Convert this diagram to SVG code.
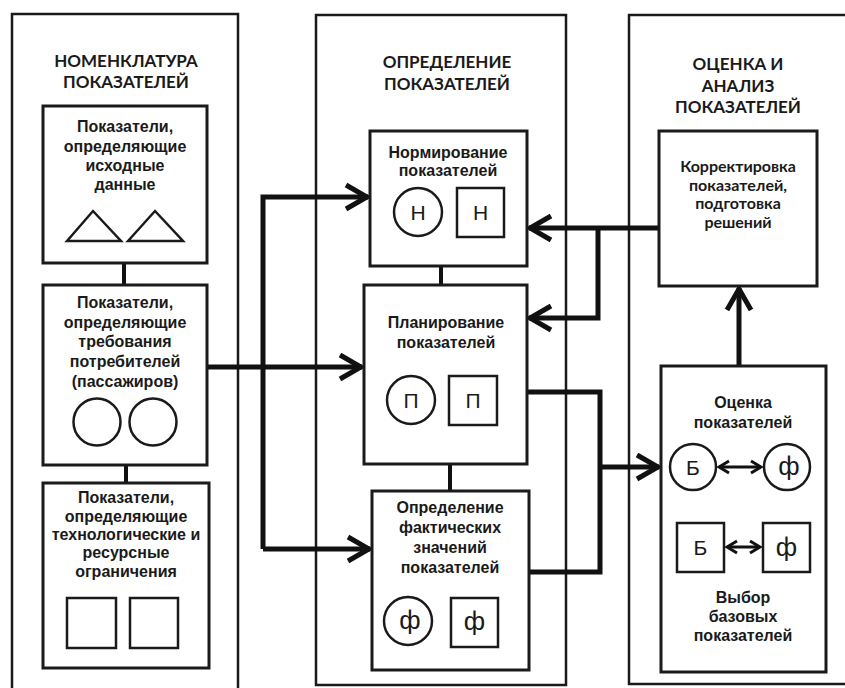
<svg xmlns="http://www.w3.org/2000/svg" width="845" height="688" viewBox="0 0 845 688">
<style>
.col{fill:none;stroke:#1a1a1a;stroke-width:2.5}
.box{fill:#fff;stroke:#1a1a1a;stroke-width:3}
.shp{fill:#fff;stroke:#1a1a1a;stroke-width:2.5}
.ln{fill:none;stroke:#111;stroke-width:5}
.lk{fill:none;stroke:#111;stroke-width:4}
.da{fill:none;stroke:#111;stroke-width:3}
.ttl{font-family:Lato,"Liberation Sans",sans-serif;font-weight:700;font-size:17px;fill:#1a1a1a;text-anchor:middle}
.t{font-family:"Liberation Sans",Arial,sans-serif;font-weight:700;font-size:16px;fill:#1a1a1a;text-anchor:middle}
.tc{font-family:Lato,"Liberation Sans",sans-serif;font-weight:700;font-size:16px;fill:#1a1a1a;text-anchor:middle}
.g{font-family:"Liberation Sans",Arial,sans-serif;font-size:21px;fill:#1a1a1a;text-anchor:middle;dominant-baseline:central}
.gf{font-family:"Liberation Sans",Arial,sans-serif;font-size:26px;fill:#1a1a1a;text-anchor:middle;dominant-baseline:central}
</style>
<defs>
<marker id="arr" markerUnits="userSpaceOnUse" viewBox="0 0 30 30" markerWidth="30" markerHeight="30" refX="27" refY="15" orient="auto">
<path d="M5,3 L26,15 L5,27" fill="none" stroke="#111" stroke-width="5" stroke-linejoin="miter"/>
</marker>
<marker id="sa" markerUnits="userSpaceOnUse" viewBox="0 0 16 16" markerWidth="16" markerHeight="16" refX="14" refY="8" orient="auto-start-reverse">
<path d="M4,2 L14,8 L4,14" fill="none" stroke="#111" stroke-width="3"/>
</marker>
</defs>
<rect width="845" height="688" fill="#fff"/>

<g id="col1">
<path class="col" d="M12,700 V14 H238 V700"/>
<text class="ttl" x="126" y="67">НОМЕНКЛАТУРА</text>
<text class="ttl" x="126" y="88">ПОКАЗАТЕЛЕЙ</text>
</g>
<g id="col2">
<rect class="col" x="316" y="15" width="250" height="670"/>
<text class="ttl" x="447" y="68">ОПРЕДЕЛЕНИЕ</text>
<text class="ttl" x="447" y="90">ПОКАЗАТЕЛЕЙ</text>
</g>
<g id="col3">
<rect class="col" x="629" y="15" width="240" height="669"/>
<text class="ttl" x="738" y="70">ОЦЕНКА И</text>
<text class="ttl" x="738" y="92">АНАЛИЗ</text>
<text class="ttl" x="738" y="113">ПОКАЗАТЕЛЕЙ</text>
</g>

<g id="connectors">
<path class="lk" d="M124,263 V285"/>
<path class="lk" d="M126,465 V483"/>
<path class="lk" d="M441,266 V285"/>
<path class="lk" d="M450,464 V491"/>
<path class="ln" d="M207,367 H362" marker-end="url(#arr)"/>
<path class="ln" d="M263,549 V197 H368" marker-end="url(#arr)"/>
<path class="ln" d="M263,549 H370" marker-end="url(#arr)"/>
<path class="ln" d="M659,228 H529" marker-end="url(#arr)"/>
<path class="ln" d="M598,228 V318 H529" marker-end="url(#arr)"/>
<path class="ln" d="M527,392 H600 V572 H529"/>
<path class="ln" d="M600,467 H659" marker-end="url(#arr)"/>
<path class="ln" d="M739,366 V288" marker-end="url(#arr)"/>
</g>

<g id="n-source">
<rect class="box" x="43" y="106" width="164" height="157"/>
<text class="t" x="125" y="132">Показатели,</text>
<text class="t" x="125" y="152">определяющие</text>
<text class="t" x="125" y="171">исходные</text>
<text class="t" x="125" y="190">данные</text>
<polygon class="shp" points="67,241 93,211 121,241"/>
<polygon class="shp" points="128,241 155,211 183,241"/>
</g>
<g id="n-consumers">
<rect class="box" x="43" y="285" width="164" height="180"/>
<text class="t" x="125" y="308">Показатели,</text>
<text class="t" x="125" y="328">определяющие</text>
<text class="t" x="125" y="347">требования</text>
<text class="t" x="125" y="367">потребителей</text>
<text class="t" x="125" y="387">(пассажиров)</text>
<circle class="shp" cx="97" cy="422" r="23.5"/>
<circle class="shp" cx="153" cy="422" r="23.5"/>
</g>
<g id="n-limits">
<rect class="box" x="43" y="483" width="166" height="185"/>
<text class="t" x="126" y="503">Показатели,</text>
<text class="t" x="126" y="522">определяющие</text>
<text class="t" x="126" y="540">технологические и</text>
<text class="t" x="126" y="558">ресурсные</text>
<text class="t" x="126" y="577">ограничения</text>
<rect class="shp" x="67" y="598" width="49" height="50"/>
<rect class="shp" x="130" y="598" width="48" height="50"/>
</g>

<g id="n-norm">
<rect class="box" x="370" y="131" width="157" height="135"/>
<text class="t" x="448" y="158">Нормирование</text>
<text class="t" x="448" y="176">показателей</text>
<circle class="shp" cx="418" cy="212" r="24"/>
<text class="g" x="418" y="212">Н</text>
<rect class="shp" x="457" y="188" width="47" height="49"/>
<text class="g" x="480.5" y="212.5">Н</text>
</g>
<g id="n-plan">
<rect class="box" x="364" y="285" width="163" height="179"/>
<text class="t" x="446" y="328">Планирование</text>
<text class="t" x="446" y="348">показателей</text>
<circle class="shp" cx="411" cy="400" r="24"/>
<text class="g" x="411" y="400">П</text>
<rect class="shp" x="449" y="376" width="48" height="49"/>
<text class="g" x="473" y="400.5">П</text>
</g>
<g id="n-fact">
<rect class="box" x="372" y="491" width="157" height="179"/>
<text class="t" x="450" y="513">Определение</text>
<text class="t" x="450" y="533">фактических</text>
<text class="t" x="450" y="553">значений</text>
<text class="t" x="450" y="573">показателей</text>
<circle class="shp" cx="408" cy="621" r="24"/>
<text class="gf" x="410" y="620">ф</text>
<rect class="shp" x="451" y="598" width="47" height="49"/>
<text class="gf" x="474.5" y="621">ф</text>
</g>

<g id="n-korr">
<rect class="box" x="659" y="131" width="158" height="155"/>
<text class="tc" x="738" y="172">Корректировка</text>
<text class="tc" x="738" y="191">показателей,</text>
<text class="tc" x="738" y="209">подготовка</text>
<text class="tc" x="738" y="228">решений</text>
</g>
<g id="n-eval">
<rect class="box" x="661" y="366" width="165" height="306"/>
<text class="t" x="743" y="408">Оценка</text>
<text class="t" x="743" y="428">показателей</text>
<circle class="shp" cx="693" cy="467" r="23"/>
<text class="g" x="693" y="467">Б</text>
<circle class="shp" cx="787" cy="467" r="23"/>
<text class="gf" x="789" y="466">ф</text>
<path class="da" d="M719,467 H761" marker-start="url(#sa)" marker-end="url(#sa)"/>
<rect class="shp" x="677" y="523" width="47" height="49"/>
<text class="g" x="700.5" y="547.5">Б</text>
<rect class="shp" x="763" y="523" width="47" height="49"/>
<text class="gf" x="786.5" y="546.5">ф</text>
<path class="da" d="M727,547 H760" marker-start="url(#sa)" marker-end="url(#sa)"/>
<text class="t" x="743" y="603">Выбор</text>
<text class="t" x="743" y="622">базовых</text>
<text class="t" x="743" y="641">показателей</text>
</g>
</svg>
